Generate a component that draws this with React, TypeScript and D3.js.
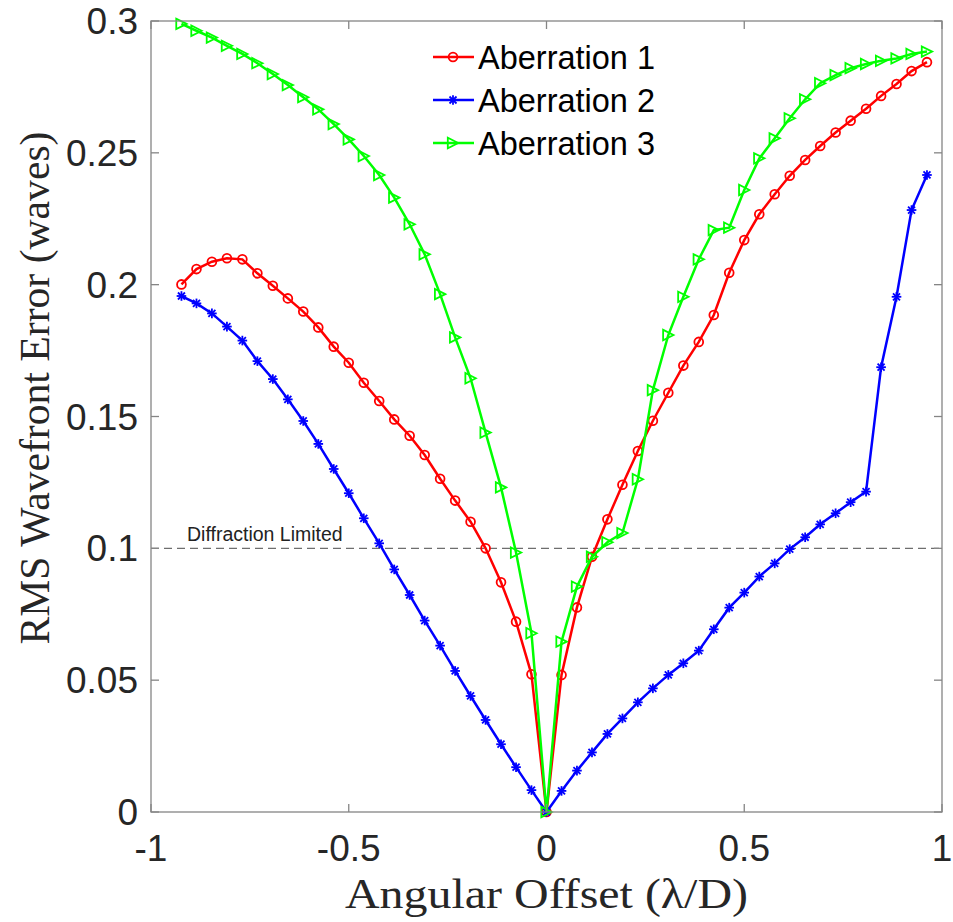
import React from "react";
import * as d3 from "d3";

// angular offsets (lambda/D) of the samples
const offsets = [
  -0.923, -0.885, -0.846, -0.808, -0.769, -0.731, -0.692, -0.654, -0.615, -0.577,
  -0.538, -0.5, -0.462, -0.423, -0.385, -0.346, -0.308, -0.269, -0.231, -0.192,
  -0.154, -0.115, -0.077, -0.038, 0,
  0.038, 0.077, 0.115, 0.154, 0.192, 0.231, 0.269, 0.308, 0.346, 0.385,
  0.423, 0.462, 0.5, 0.538, 0.577, 0.615, 0.654, 0.692, 0.731, 0.769,
  0.808, 0.846, 0.885, 0.923, 0.962,
];

const aberration1 = [
  0.2001, 0.2059, 0.2087, 0.21, 0.2096, 0.2043, 0.1996, 0.1948, 0.1898, 0.1838,
  0.1765, 0.1704, 0.1628, 0.1559, 0.1489, 0.1427, 0.1354, 0.1264, 0.1181, 0.1101,
  0.1, 0.0871, 0.0722, 0.0522, 0,
  0.052, 0.0776, 0.0968, 0.111, 0.1241, 0.1369, 0.1484, 0.159, 0.1693, 0.1783,
  0.1885, 0.2045, 0.2169, 0.2267, 0.2343, 0.2413, 0.2473, 0.2526, 0.2577, 0.2622,
  0.2667, 0.2716, 0.2761, 0.281, 0.2844,
];

const aberration2 = [
  0.1957, 0.1929, 0.1891, 0.1841, 0.1788, 0.171, 0.1642, 0.1565, 0.1483, 0.1396,
  0.1301, 0.1209, 0.1114, 0.1019, 0.092, 0.0823, 0.0726, 0.0631, 0.0535, 0.044,
  0.0349, 0.0257, 0.017, 0.0083, 0,
  0.008, 0.0157, 0.0226, 0.0296, 0.0355, 0.0416, 0.0469, 0.052, 0.0564, 0.0612,
  0.0693, 0.0775, 0.0832, 0.0893, 0.0943, 0.0997, 0.1042, 0.1091, 0.1133, 0.1175,
  0.1215, 0.1687, 0.1954, 0.2283, 0.2416,
];

const aberration3 = [
  0.2989, 0.2963, 0.2937, 0.2906, 0.2875, 0.284, 0.2799, 0.2757, 0.2711, 0.2665,
  0.2609, 0.2551, 0.2488, 0.2416, 0.233, 0.2229, 0.2115, 0.1964, 0.18, 0.1645,
  0.1439, 0.1231, 0.0984, 0.0678, 0,
  0.0646, 0.0855, 0.0968, 0.1023, 0.1058, 0.1262, 0.16, 0.1809, 0.1954, 0.2096,
  0.2207, 0.2216, 0.2359, 0.2479, 0.2555, 0.2631, 0.2703, 0.2764, 0.2795, 0.2821,
  0.2837, 0.2849, 0.2858, 0.2875, 0.2884,
];

const seriesNames = ["Aberration 1", "Aberration 2", "Aberration 3"];
const xTicks = [-1, -0.5, 0, 0.5, 1];
const yTicks = [0, 0.05, 0.1, 0.15, 0.2, 0.25, 0.3];
const diffractionLimit = 0.1;

const W = 953, H = 922;
const m = { left: 151, right: 942, top: 21, bottom: 812 };
const axisColor = "#858585";
const sans = "'Liberation Sans', Arial, Helvetica, sans-serif";
const serif = "'Liberation Serif', 'Times New Roman', serif";

function Marker({ kind, x, y, color }: { kind: string; x: number; y: number; color: string }) {
  if (kind === "circle") {
    return <circle cx={x} cy={y} r={4.4} fill="none" stroke={color} strokeWidth={1.8} />;
  }
  if (kind === "star") {
    const r = 4.8, d = 3.5;
    return (
      <g stroke={color} strokeWidth={1.8}>
        <line x1={x - r} y1={y} x2={x + r} y2={y} />
        <line x1={x} y1={y - r} x2={x} y2={y + r} />
        <line x1={x - d} y1={y - d} x2={x + d} y2={y + d} />
        <line x1={x - d} y1={y + d} x2={x + d} y2={y - d} />
      </g>
    );
  }
  const r = 5.2;
  return (
    <path
      d={`M${x + r},${y}L${x - r},${y - r}L${x - r},${y + r}Z`}
      fill="none"
      stroke={color}
      strokeWidth={1.8}
    />
  );
}

export default function App() {
  const x = d3.scaleLinear().domain([-1, 1]).range([m.left, m.right]);
  const y = d3.scaleLinear().domain([0, 0.3]).range([m.bottom, m.top]);

  const series = [
    { name: seriesNames[0], values: aberration1, color: "#ff0000", marker: "circle" },
    { name: seriesNames[1], values: aberration2, color: "#0000ff", marker: "star" },
    { name: seriesNames[2], values: aberration3, color: "#00ff00", marker: "triangle" },
  ];

  const line = d3
    .line<number>()
    .x((_, i) => x(offsets[i]))
    .y((v) => y(v));

  const tickLen = 8;

  return (
    <div style={{ position: "absolute", left: 0, top: 0 }}>
      <svg width={W} height={H} style={{ display: "block", background: "#fff" }}>
        {/* diffraction limit */}
        <line
          x1={m.left}
          x2={m.right}
          y1={y(diffractionLimit)}
          y2={y(diffractionLimit)}
          stroke="#6e6e6e"
          strokeWidth={1.3}
          strokeDasharray="8,5"
        />
        <text x={187} y={y(diffractionLimit) - 7} fontFamily={sans} fontSize={19.5} fill="#222">
          Diffraction Limited
        </text>

        {series.map((s) => (
          <g key={s.name}>
            <path d={line(s.values) || ""} fill="none" stroke={s.color} strokeWidth={2.5} />
            {s.values.map((v, i) => (
              <Marker key={i} kind={s.marker} x={x(offsets[i])} y={y(v)} color={s.color} />
            ))}
          </g>
        ))}

        {/* axes box + ticks */}
        <rect
          x={m.left}
          y={m.top}
          width={m.right - m.left}
          height={m.bottom - m.top}
          fill="none"
          stroke={axisColor}
          strokeWidth={1.3}
        />
        {xTicks.map((t) => (
          <g key={"x" + t}>
            <line x1={x(t)} x2={x(t)} y1={m.bottom} y2={m.bottom - tickLen} stroke={axisColor} strokeWidth={1.3} />
            <line x1={x(t)} x2={x(t)} y1={m.top} y2={m.top + tickLen} stroke={axisColor} strokeWidth={1.3} />
            <text x={x(t)} y={861} textAnchor="middle" fontFamily={sans} fontSize={37} fill="#262626">
              {t}
            </text>
          </g>
        ))}
        {yTicks.map((t) => (
          <g key={"y" + t}>
            <line x1={m.left} x2={m.left + tickLen} y1={y(t)} y2={y(t)} stroke={axisColor} strokeWidth={1.3} />
            <line x1={m.right} x2={m.right - tickLen} y1={y(t)} y2={y(t)} stroke={axisColor} strokeWidth={1.3} />
            <text x={138} y={y(t) + 13} textAnchor="end" fontFamily={sans} fontSize={37} fill="#262626">
              {t}
            </text>
          </g>
        ))}

        {/* axis titles */}
        <text
          x={(m.left + m.right) / 2}
          y={908}
          textAnchor="middle"
          fontFamily={serif}
          fontSize={42}
          fill="#262626"
          textLength={403}
          lengthAdjust="spacingAndGlyphs"
        >
          Angular Offset (λ/D)
        </text>
        <text
          transform={`translate(49,388) rotate(-90)`}
          textAnchor="middle"
          fontFamily={serif}
          fontSize={42}
          fill="#262626"
          textLength={513}
          lengthAdjust="spacingAndGlyphs"
        >
          RMS Wavefront Error (waves)
        </text>

        {/* legend */}
        {series.map((s, i) => {
          const ly = 57 + i * 43;
          return (
            <g key={"leg" + s.name}>
              <line x1={433} x2={474} y1={ly} y2={ly} stroke={s.color} strokeWidth={2.5} />
              <Marker kind={s.marker} x={453} y={ly} color={s.color} />
              <text x={478} y={ly + 11.5} fontFamily={sans} fontSize={32.5} fill="#000">
                {s.name}
              </text>
            </g>
          );
        })}
      </svg>
    </div>
  );
}
